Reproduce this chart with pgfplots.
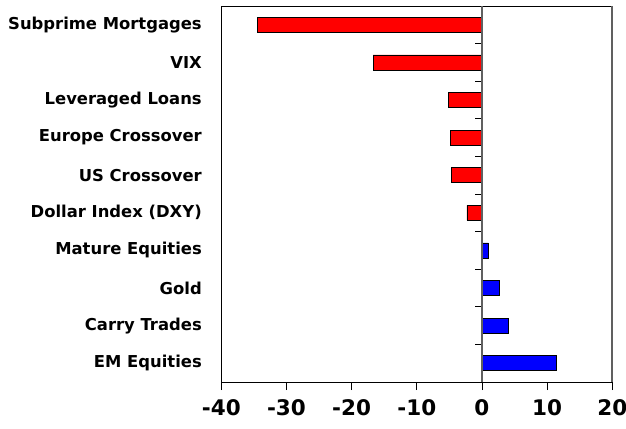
\documentclass[border=0pt]{standalone}
\usepackage{fontspec}
\setmainfont{DejaVu Sans}
\usepackage{pgfplots}
\pgfplotsset{compat=1.18}
\begin{document}
\begin{tikzpicture}
\begin{axis}[
  scale only axis,
  width=391pt, height=376pt,
  xmin=-40, xmax=20,
  ymin=-0.5, ymax=9.5,
  y dir=reverse,
  xbar, bar width=15pt, bar shift=0pt,
  xtick={-40,-30,-20,-10,0,10,20},
  xtick pos=bottom,
  xtick align=outside,
  major tick length=8pt,
  x tick style={black, line width=0.8pt},
  xticklabel style={font=\fontsize{21.5}{24}\selectfont\bfseries, yshift=-6pt},
  /pgf/number format/assume math mode=true,
  ytick={0,...,9},
  yticklabels={Subprime Mortgages,VIX,Leveraged Loans,Europe Crossover,US Crossover,Dollar Index (DXY),Mature Equities,Gold,Carry Trades,EM Equities},
  y tick style={draw=none},
  yticklabel style={font=\fontsize{16.4}{19}\selectfont\bfseries, xshift=-8pt},
  axis line style={black, line width=0.8pt},
  clip=false,
  after end axis/.code={
    \draw[gray!75!black, line width=1.6pt] (rel axis cs:1,0) -- (rel axis cs:1,1);
    \draw[gray!75!black, line width=1.4pt] (axis cs:0,-0.5) -- (axis cs:0,9.5);
  },
]
\pgfplotsinvokeforeach{0.5,1.5,2.5,3.5,4.5,5.5,6.5,7.5,8.5}{
  \draw[black, line width=0.8pt] (axis cs:0,#1) -- ++(-6.5pt,0pt);
}
\addplot[fill=red, draw=black, line width=0.6pt] coordinates {
  (-34.4,0) (-16.7,1) (-5.2,2) (-4.9,3) (-4.7,4) (-2.3,5)
};
\addplot[fill=blue, draw=black, line width=0.6pt] coordinates {
  (1.0,6) (2.6,7) (4.0,8) (11.4,9)
};
\coordinate (bl) at (rel axis cs:0,0);
\coordinate (tr) at (rel axis cs:1,1);
\end{axis}
\pgfresetboundingbox
\path ([shift={(-221.3pt,-46.7pt)}]bl) rectangle ([shift={(13.7pt,6pt)}]tr);
\end{tikzpicture}
\end{document}
